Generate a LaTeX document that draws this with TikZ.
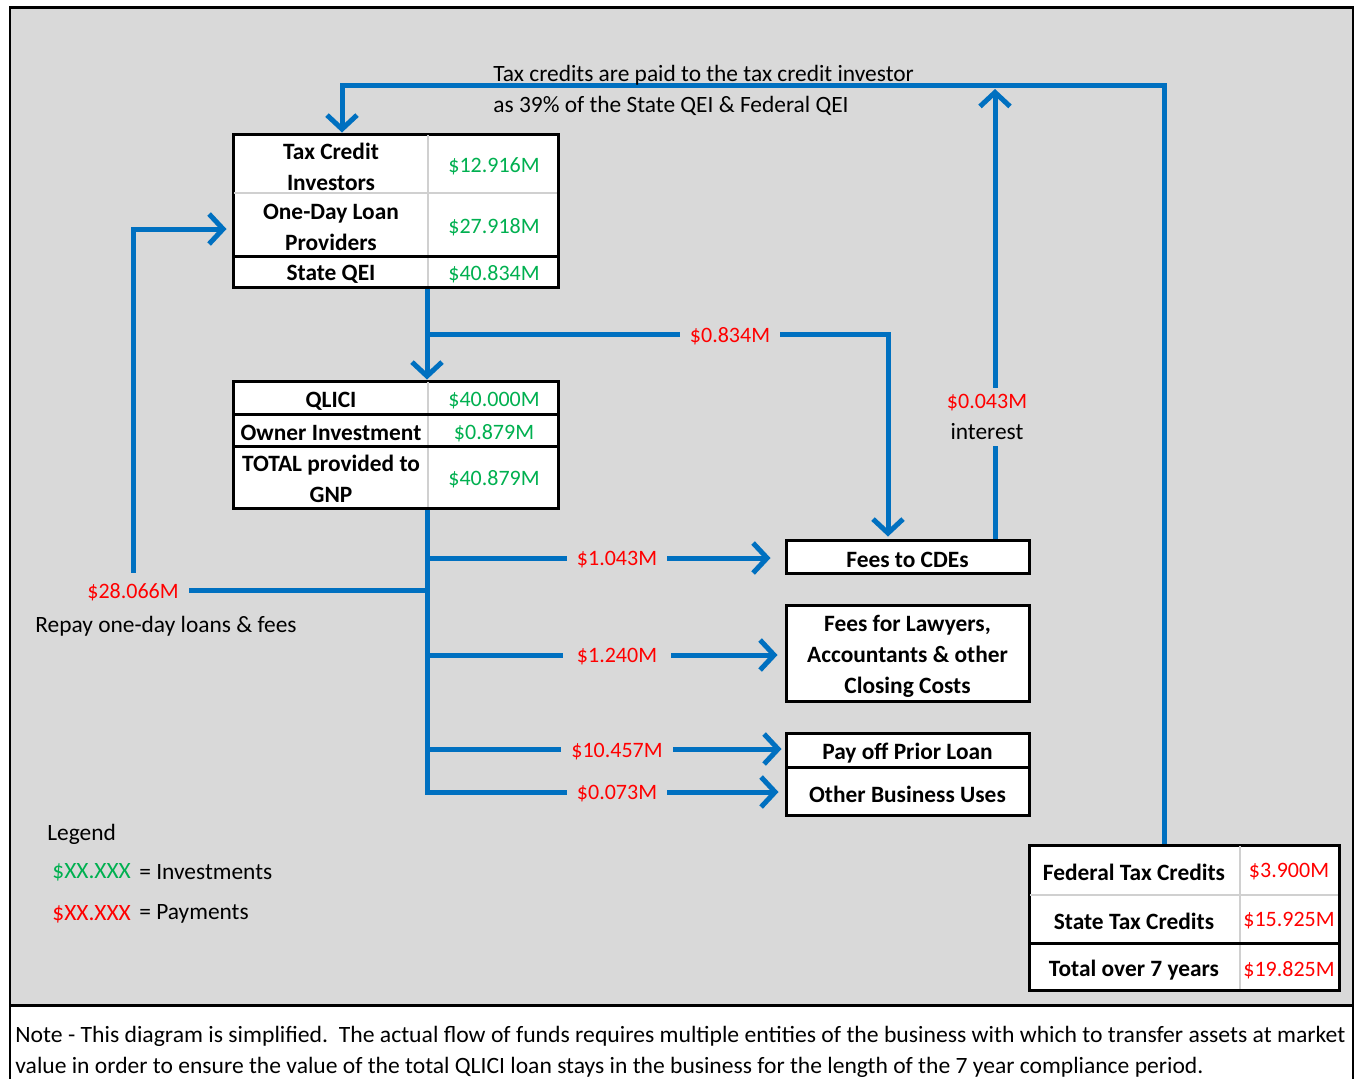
\documentclass[tikz,border=0pt]{standalone}
\usepackage{fontspec}
\usepackage{graphicx}
\setmainfont{Carlito}
\usetikzlibrary{arrows.meta}
\definecolor{bg}{HTML}{D9D9D9}
\definecolor{flow}{HTML}{0070C0}
\definecolor{inv}{HTML}{00B050}
\definecolor{pay}{HTML}{FF0000}
\definecolor{cellrule}{HTML}{D0D0D0}
\begin{document}
\begin{tikzpicture}[x=0.5pt,y=-0.5pt,
  every node/.style={inner sep=0pt, font=\fontsize{11.7}{15.5}\selectfont},
  box/.style={draw=black, line width=1.5pt, fill=white, inner sep=0pt},
  lbl/.style={font=\bfseries\fontsize{11.7}{15.5}\selectfont, align=center, yshift=-1pt},
  amt/.style={text=inv, font=\fontsize{11}{15.5}\selectfont, yshift=-1pt},
  payamt/.style={text=pay, font=\fontsize{11}{15.5}\selectfont, yshift=-1pt},
  txt/.style={anchor=west, align=left, yshift=-1pt},
  flowline/.style={draw=flow, line width=2.5pt},
  arr/.style={flowline, -{Straight Barb[length=7pt,width=15pt]}},
  gap/.style={fill=bg, inner xsep=5pt, inner ysep=3pt, yshift=-1pt},
  money/.style={gap, text=pay, font=\fontsize{11}{15.5}\selectfont},
  softrule/.style={draw=cellrule, line width=0.8pt},
  hardrule/.style={draw=black, line width=1.5pt},
  ]
\useasboundingbox (0,0) rectangle (1355,1078);
% frame
\node[draw=black, line width=1.2pt, fill=bg, minimum width=671.5pt, minimum height=499pt] (frame) at (681.5,506) {};
\node[draw=black, line width=1.2pt, fill=white, minimum width=671.5pt, minimum height=45pt] (notebox) at (681.5,1050) {};
\draw[hardrule] (10,1005) -- (1353,1005);
\draw[hardrule] (10,7.5) -- (1353,7.5);
\node[txt] (note1) at (15,1034) {\resizebox{665pt}{\height}{Note - This diagram is simplified.\ \ The actual flow of funds requires multiple entities of the business with which to transfer assets at market}};
\node[txt] (note2) at (15,1065) {\resizebox{594pt}{\height}{value in order to ensure the value of the total QLICI loan stays in the business for the length of the 7 year compliance period.}};

% top table
\node[box, minimum width=162.5pt, minimum height=76.5pt] (tt) at (395.5,210.5) {};
\draw[softrule] (428,135) -- (428,286);
\draw[softrule] (234,193) -- (557,193);
\draw[hardrule] (234,256) -- (557,256);
\node[lbl] (tt1) at (331,165) {Tax Credit\\Investors};
\node[lbl] (tt2) at (331,225) {One-Day Loan\\Providers};
\node[lbl] (tt3) at (331,272) {State QEI};
\node[amt] (tt1v) at (494,164) {\$12.916M};
\node[amt] (tt2v) at (494,225) {\$27.918M};
\node[amt] (tt3v) at (494,272) {\$40.834M};

% middle table
\node[box, minimum width=162.5pt, minimum height=63.5pt] (mt) at (395.5,444.5) {};
\draw[softrule] (428,382) -- (428,507);
\draw[hardrule] (234,414) -- (557,414);
\draw[hardrule] (234,446) -- (557,446);
\node[lbl] (mt1) at (331,399) {QLICI};
\node[lbl] (mt2) at (331,431) {Owner Investment};
\node[lbl] (mt3) at (331,477) {TOTAL provided to\\GNP};
\node[amt] (mt1v) at (494,399) {\$40.000M};
\node[amt] (mt2v) at (494,431) {\$0.879M};
\node[amt] (mt3v) at (494,477) {\$40.879M};

% destination boxes
\node[box, minimum width=121.5pt, minimum height=16.5pt] (cde) at (907.5,556.5) {};
\node[lbl] (cdet) at (907.5,558) {Fees to CDEs};
\node[box, minimum width=121.5pt, minimum height=48pt] (law) at (907.5,653) {};
\node[lbl] (lawt) at (907.5,654) {Fees for Lawyers,\\Accountants \& other\\Closing Costs};
\node[box, minimum width=121.5pt, minimum height=17pt] (pay) at (907.5,750) {};
\node[lbl] (payt) at (907.5,751) {Pay off Prior Loan};
\node[box, minimum width=121.5pt, minimum height=24pt] (oth) at (907.5,791) {};
\node[lbl] (otht) at (907.5,792) {Other Business Uses};

% tax credit table
\node[box, minimum width=155pt, minimum height=72.5pt] (ft) at (1184,917.5) {};
\draw[softrule] (1240,846) -- (1240,989);
\draw[softrule] (1030,895) -- (1338,895);
\draw[hardrule] (1030,943) -- (1338,943);
\node[lbl] (ft1) at (1134,870) {Federal Tax Credits};
\node[lbl] (ft2) at (1134,919) {State Tax Credits};
\node[lbl] (ft3) at (1134,968) {Total over 7 years};
\node[payamt] (ft1v) at (1289,870) {\$3.900M};
\node[payamt] (ft2v) at (1289,919) {\$15.925M};
\node[payamt] (ft3v) at (1289,968) {\$19.825M};

% coordinates
\coordinate (xloop) at (1164,85);
\coordinate (xtop) at (342,85);
\coordinate (inttop) at (995,89);
\coordinate (xtr) at (427,0);
\coordinate (b1) at (427,334);
\coordinate (b1r) at (888,334);
\coordinate (tb) at (427,792);
\coordinate (br1) at (427,558);
\coordinate (br2) at (427,655);
\coordinate (br3) at (427,749);
\coordinate (br0) at (427,590);
\coordinate (lx) at (133,590);
\coordinate (ly) at (133,229);

% connectors
\draw[arr] (ft.north -| xloop) -- (xloop) -- (xtop) -- (tt.north -| xtop);
\draw[arr] (cde.north -| inttop) -- (inttop);
\draw[arr] (tt.south -| xtr) -- (mt.north -| xtr);
\draw[arr, shorten >=1pt] (b1) -- (b1r) -- (cde.north -| b1r);
\draw[arr, shorten >=3pt] (mt.south -| xtr) -- (tb) -- (oth.west |- tb);
\draw[arr, shorten >=7pt] (br1) -- (cde.west |- br1);
\draw[arr, shorten >=3.5pt] (br2) -- (law.west |- br2);
\draw[arr, shorten >=1.5pt] (br3) -- (pay.west |- br3);
\draw[arr, shorten >=2.5pt] (br0) -- (lx) -- (ly) -- (tt.west |- ly);

% flow labels
\node[gap, align=center] (intlbl) at (987,415) {\textcolor{pay}{\fontsize{11}{15.5}\selectfont\$0.043M}\\interest};
\node[money] (l834) at (730,334) {\$0.834M};
\node[money] (l1043) at (617,558) {\$1.043M};
\node[money, inner xsep=7pt] (l1240) at (617,655) {\$1.240M};
\node[money] (l10457) at (617,750) {\$10.457M};
\node[money] (l073) at (617,792) {\$0.073M};
\node[money, minimum height=19pt] (l28) at (133,590) {\$28.066M};
\node[txt] (repay) at (35,624) {Repay one-day loans \& fees};

% top text
\node[txt] (tc1) at (493,73) {Tax credits are paid to the tax credit investor};
\node[txt] (tc2) at (493,104) {as 39\% of the State QEI \& Federal QEI};

% legend
\node[txt] (leg) at (47,832) {Legend};
\node[txt, text=inv] (leg1) at (52,870) {\$XX.XXX};
\node[txt] (leg1t) at (139,870) {= Investments};
\node[txt, text=pay] (leg2) at (52,912) {\$XX.XXX};
\node[txt] (leg2t) at (139,912) {= Payments};
\end{tikzpicture}
\end{document}
